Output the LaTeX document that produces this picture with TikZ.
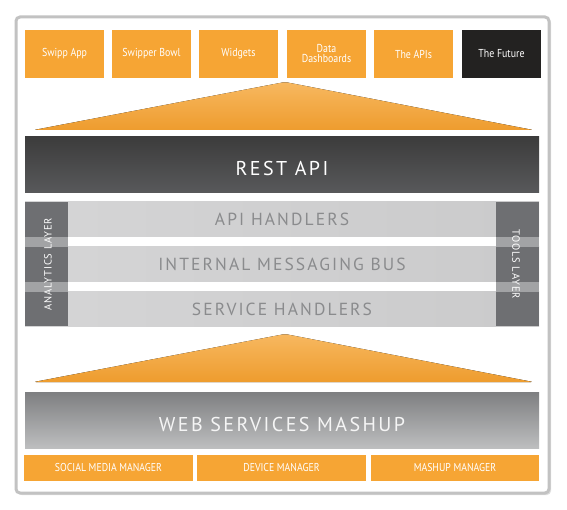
\documentclass[tikz,border=0pt]{standalone}
\usepackage{fontspec}
\setmainfont{PT Sans}
\newfontfamily\narrowfont[FakeStretch=0.86]{PT Sans}
\newfontfamily\barfont[LetterSpace=12]{PT Sans}
\newfontfamily\sidefont[LetterSpace=8]{PT Sans}
\usetikzlibrary{shadows}

\definecolor{swippOrange}{HTML}{F6A534}
\definecolor{triTop}{HTML}{F7B860}
\definecolor{triBottom}{HTML}{EE9C2E}
\definecolor{futureBlack}{HTML}{232221}
\definecolor{restTop}{HTML}{3C3C3C}
\definecolor{restBottom}{HTML}{58595B}
\definecolor{webTop}{HTML}{7E7F81}
\definecolor{webBottom}{HTML}{BDBEBF}
\definecolor{busGray}{HTML}{D5D5D6}
\definecolor{busLight}{HTML}{DEDEDE}
\definecolor{sideGray}{HTML}{6E6F72}
\definecolor{sideLight}{HTML}{A2A3A5}
\definecolor{busText}{HTML}{8A8B8D}
\definecolor{frameGray}{HTML}{C2C2C2}

\begin{document}
\begin{tikzpicture}[x=1pt,y=-1pt]
\tikzset{app/.style = {fill=swippOrange, text=white, minimum width=79pt, minimum height=48pt, inner sep=0pt, align=center, font=\narrowfont\fontsize{11.5}{12}\selectfont}}
\tikzset{manager/.style = {fill=swippOrange, text=white, minimum width=169pt, minimum height=26pt, inner sep=0pt, font=\narrowfont\fontsize{11.4}{12}\selectfont}}
\tikzset{bus/.style = {left color=busGray, middle color=busLight, right color=busGray!95!black, text=busText, minimum width=514pt, minimum height=35pt, inner sep=0pt, font=\barfont\fontsize{17.5}{18}\selectfont}}
\tikzset{layer/.style = {minimum width=514pt, minimum height=56pt, inner sep=0pt, text height=22pt, text depth=0pt, font=\barfont\fontsize{20}{22}\selectfont}}
\tikzset{side/.style = {text=white, inner sep=0pt, font=\sidefont\fontsize{10.5}{11}\selectfont}}
\tikzset{wedge/.style = {top color=triTop, bottom color=triBottom, rounded corners=2pt}}
\useasboundingbox (0,0) rectangle (567,510);
% frame
\draw[line width=3pt, frameGray, fill=white, rounded corners=4pt, drop shadow={shadow xshift=2pt, shadow yshift=-2pt, opacity=0.25}] (16,17) rectangle (549,493);
% apps
\node[app] (swippapp) at (64.5,54) {Swipp App};
\node[app] (bowl) at (151.5,54) {Swipper Bowl};
\node[app] (widgets) at (238.5,54) {Widgets};
\node[app] (dashboards) at (326.5,54) {Data\\[-2pt]Dashboards};
\node[app] (apis) at (413.5,54) {The APIs};
\node[app, fill=futureBlack] (future) at (501.5,54) {The Future};
% wedges
\fill[wedge] (34,130) -- (285,82) -- (533,130) -- cycle;
\fill[wedge] (34,382) -- (285,334) -- (533,382) -- cycle;
% rest api
\node[layer, top color=restTop, bottom color=restBottom, text=white] (rest) at (282,165) {REST API};
% handlers and bus
\node[bus] (apihandlers) at (282,219.5) {API HANDLERS};
\node[bus] (msgbus) at (282,264.5) {INTERNAL MESSAGING BUS};
\node[bus, minimum height=34pt] (svchandlers) at (282,309) {SERVICE HANDLERS};
% side layers
\fill[sideGray] (25,202) rectangle (68,326);
\fill[sideLight] (25,237) rectangle (68,247);
\fill[sideLight] (25,282) rectangle (68,292);
\fill[sideGray] (496,202) rectangle (539,326);
\fill[sideLight] (496,237) rectangle (539,247);
\fill[sideLight] (496,282) rectangle (539,292);
\node[side, rotate=90] (analytics) at (48,264) {ANALYTICS LAYER};
\node[side, rotate=-90] (tools) at (516,264) {TOOLS LAYER};
% web services
\node[layer, top color=webTop, bottom color=webBottom, text=white!96!black] (mashup) at (282,420) {WEB SERVICES MASHUP};
% managers
\node[manager] (social) at (108.5,468) {SOCIAL MEDIA MANAGER};
\node[manager] (device) at (281.5,468) {DEVICE MANAGER};
\node[manager, minimum width=168pt] (mashupmgr) at (455,468) {MASHUP MANAGER};
\end{tikzpicture}
\end{document}
